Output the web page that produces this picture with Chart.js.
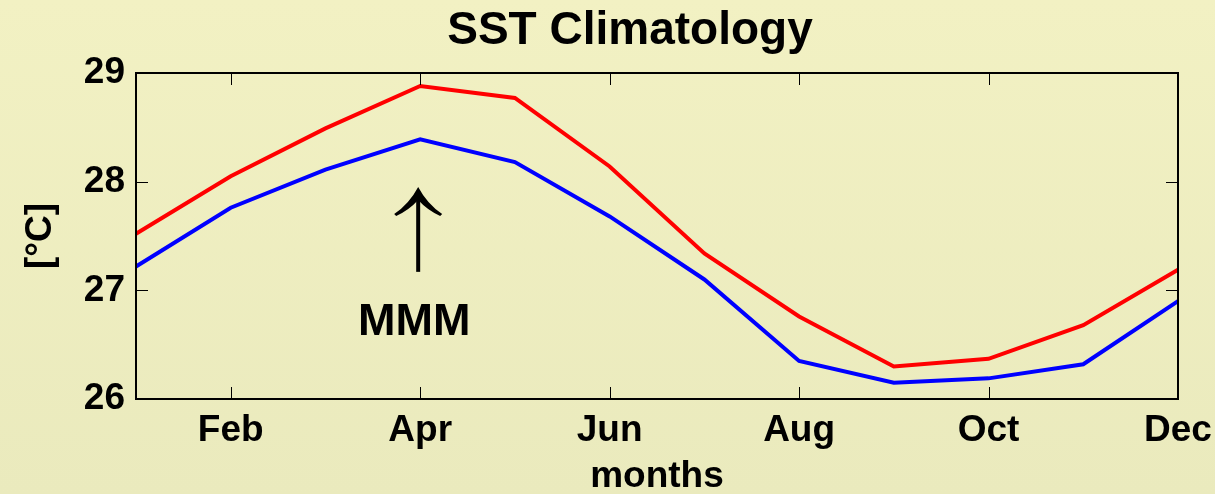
<!DOCTYPE html>
<html>
<head>
<meta charset="utf-8">
<title>SST Climatology</title>
<script src="https://cdn.jsdelivr.net/npm/chart.js@4.4.1/dist/chart.umd.min.js"></script>
<style>
    html, body {
        margin: 0;
        padding: 0;
    }
    body {
        background: linear-gradient(to bottom, #f2f1c3, #eaeabd);
    }
    .chart-box {
        position: relative;
        width: 1215px;
        height: 494px;
    }
</style>
</head>
<body>
<div class="chart-box">
    <canvas id="sstChart"></canvas>
</div>
<script>
// SST climatology, monthly means (deg C)
const months = ['Jan', 'Feb', 'Mar', 'Apr', 'May', 'Jun', 'Jul', 'Aug', 'Sep', 'Oct', 'Nov', 'Dec'];
const sstRed = [27.52, 28.05, 28.49, 28.88, 28.77, 28.14, 27.34, 26.76, 26.30, 26.37, 26.68, 27.19];
const sstBlue = [27.22, 27.76, 28.11, 28.39, 28.18, 27.68, 27.10, 26.35, 26.15, 26.19, 26.32, 26.90];
const yTicks = [26, 27, 28, 29];

// MMM marker: arrow from 27.17 up to 27.95 at Apr, label below it
const mmmMonth = 'Apr';
const mmmArrow = [27.17, 27.95];
const mmmLabelAt = 26.72;

const chartTitle = 'SST Climatology';
const FONT = "'Liberation Sans', Arial, sans-serif";

// title, frame round the plot, inward ticks on all four sides, and the MMM note
const framePlugin = {
    id: 'frame',
    afterDraw(chart) {
        const ctx = chart.ctx;
        const area = chart.chartArea;
        const x = chart.scales.x;
        const y = chart.scales.y;
        const tick = 12;

        ctx.save();
        ctx.fillStyle = '#000';
        ctx.font = 'bold 46px ' + FONT;
        ctx.textAlign = 'center';
        ctx.textBaseline = 'middle';
        ctx.fillText(chartTitle, 630, 31);

        ctx.strokeStyle = '#000';
        ctx.lineWidth = 1;
        ctx.beginPath();
        x.ticks.forEach(function(t, i) {
            if (i % 2 !== 1) return;
            const px = Math.round(x.getPixelForTick(i)) + 0.5;
            ctx.moveTo(px, area.bottom);
            ctx.lineTo(px, area.bottom - tick);
            ctx.moveTo(px, area.top);
            ctx.lineTo(px, area.top + tick);
        });
        yTicks.forEach(function(v) {
            const py = Math.round(y.getPixelForValue(v)) + 0.5;
            ctx.moveTo(area.left, py);
            ctx.lineTo(area.left + tick, py);
            ctx.moveTo(area.right, py);
            ctx.lineTo(area.right - tick, py);
        });
        ctx.stroke();

        ctx.lineWidth = 2;
        ctx.strokeRect(area.left, area.top, area.right - area.left, area.bottom - area.top);

        // MMM arrow
        const ax = x.getPixelForValue(months.indexOf(mmmMonth)) - 2;
        const yBottom = y.getPixelForValue(mmmArrow[0]);
        const yTip = y.getPixelForValue(mmmArrow[1]);
        ctx.lineWidth = 4;
        ctx.beginPath();
        ctx.moveTo(ax, yBottom);
        ctx.lineTo(ax, yTip + 4);
        ctx.stroke();

        ctx.beginPath();
        ctx.moveTo(ax, yTip);
        ctx.quadraticCurveTo(ax - 9, yTip + 17, ax - 24, yTip + 27);
        ctx.lineTo(ax - 22, yTip + 29);
        ctx.quadraticCurveTo(ax - 9, yTip + 23, ax, yTip + 13);
        ctx.quadraticCurveTo(ax + 9, yTip + 23, ax + 22, yTip + 29);
        ctx.lineTo(ax + 24, yTip + 27);
        ctx.quadraticCurveTo(ax + 9, yTip + 17, ax, yTip);
        ctx.closePath();
        ctx.fill();

        ctx.font = 'bold 45px ' + FONT;
        ctx.fillText('MMM', ax - 4, y.getPixelForValue(mmmLabelAt) + 2);
        ctx.restore();
    }
};

document.addEventListener('DOMContentLoaded', function() {
    const canvas = document.getElementById('sstChart');

    new Chart(canvas, {
        type: 'line',
        data: {
            labels: months,
            datasets: [
                {
                    label: 'SST (upper)',
                    data: sstRed,
                    borderColor: '#ff0000',
                    borderWidth: 4,
                    pointRadius: 0,
                    tension: 0,
                    fill: false
                },
                {
                    label: 'SST (lower)',
                    data: sstBlue,
                    borderColor: '#0000ff',
                    borderWidth: 4,
                    pointRadius: 0,
                    tension: 0,
                    fill: false
                }
            ]
        },
        options: {
            responsive: true,
            maintainAspectRatio: false,
            animation: false,
            layout: {
                padding: { left: 0, right: 37, top: 73, bottom: 0 }
            },
            plugins: {
                legend: { display: false },
                tooltip: { enabled: false },
                title: { display: false }
            },
            scales: {
                x: {
                    type: 'category',
                    offset: false,
                    grid: { display: false, drawTicks: false },
                    border: { display: false },
                    ticks: {
                        autoSkip: false,
                        maxRotation: 0,
                        padding: 10,
                        color: '#000',
                        font: { size: 37, weight: 'bold', family: FONT },
                        callback: function(value, index) {
                            return index % 2 === 1 ? months[index] : '';
                        }
                    },
                    title: {
                        display: true,
                        text: 'months',
                        color: '#000',
                        font: { size: 37, weight: 'bold', family: FONT, lineHeight: 1 },
                        padding: { top: 0, bottom: -1 }
                    },
                    afterFit: function(scale) {
                        scale.height = 95;
                        scale.paddingLeft = 0;
                        scale.paddingRight = 0;
                    }
                },
                y: {
                    min: 26,
                    max: 29,
                    grid: { display: false, drawTicks: false },
                    border: { display: false },
                    afterBuildTicks: function(scale) {
                        scale.ticks = yTicks.map(v => ({ value: v }));
                    },
                    ticks: {
                        padding: 11,
                        color: '#000',
                        font: { size: 37, weight: 'bold', family: FONT }
                    },
                    title: {
                        display: true,
                        text: '[°C]',
                        color: '#000',
                        font: { size: 37, weight: 'bold', family: FONT },
                        padding: { top: 19, bottom: 0 }
                    },
                    afterFit: function(scale) {
                        scale.width = 136;
                    }
                }
            }
        },
        plugins: [framePlugin]
    });
});
</script>
</body>
</html>
